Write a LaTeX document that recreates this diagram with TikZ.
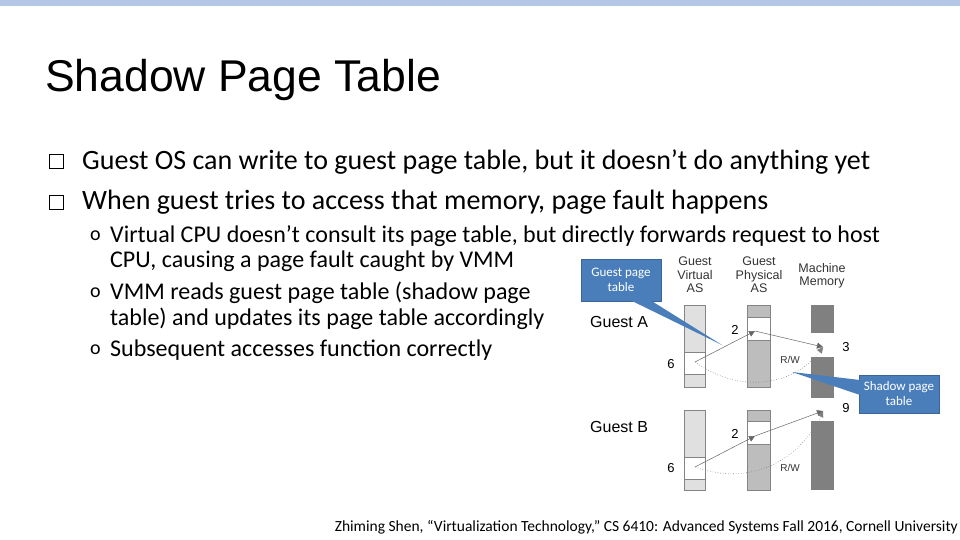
\documentclass[tikz,border=0pt]{standalone}
\usepackage{fontspec}
\setmainfont{Carlito}
\newfontfamily\arial{Liberation Sans}
\usetikzlibrary{arrows.meta}
\definecolor{callb}{HTML}{4A7EBB}
\definecolor{lg}{HTML}{E0E0E0}
\definecolor{mg}{HTML}{BDBDBD}
\definecolor{dg}{HTML}{808080}
\begin{document}
\begin{tikzpicture}[x=1pt,y=-1pt,
  col/.style={draw=mg!70!black,line width=0.4pt},
  lab/.style={font=\arial\fontsize{12.5}{13.5}\selectfont,align=center,text=black!80,inner sep=0pt},
  num/.style={font=\arial\fontsize{13}{14}\selectfont,inner sep=0pt},
  rw/.style={font=\arial\fontsize{10}{11}\selectfont,inner sep=0pt,text=black!80},
  bt/.style={anchor=west,inner sep=0pt,font=\fontsize{28}{32}\selectfont},
  st/.style={anchor=west,inner sep=0pt,font=\fontsize{24}{28}\selectfont},
  call/.style={fill=callb,draw=callb!80!black,text=white,font=\fontsize{13}{15}\selectfont,align=center},
  arr/.style={draw=black!60,line width=0.5pt,-{Triangle[length=6pt,width=6pt]}},
  darr/.style={draw=black!50,dotted,line width=0.6pt,-{Triangle[length=6pt,width=6pt]}}]
\useasboundingbox (0,0) rectangle (960,540);
\fill[white] (0,0) rectangle (960,540);
\fill[color={rgb,255:red,180;green,199;blue,231}] (0,0) rectangle (960,6);
\node[anchor=west,inner sep=0pt,font=\arial\fontsize{44.5}{48}\selectfont] (title) at (45,80) {Shadow Page Table};
% bullets
\foreach \yy in {162,202} {\draw[line width=1pt] (49,\yy-7) rectangle (63,\yy+7);}
\node[bt] (b1) at (82,162) {Guest OS can write to guest page table, but it doesn’t do anything yet};
\node[bt] (b2) at (82,202) {When guest tries to access that memory, page fault happens};
\foreach \yy in {236,293,350} {\node[anchor=west,inner sep=0pt,font=\fontsize{20}{22}\selectfont] at (90,\yy) {o};}
\node[st] (s1) at (110,236) {Virtual CPU doesn’t consult its page table, but directly forwards request to host};
\node[st] (s1b) at (110,261) {CPU, causing a page fault caught by VMM};
\node[st] (s2) at (110,293) {VMM reads guest page table (shadow page};
\node[st] (s2b) at (110,319) {table) and updates its page table accordingly};
\node[st] (s3) at (110,350) {Subsequent accesses function correctly};
\node[anchor=east,inner sep=0pt,font=\fontsize{15.5}{17}\selectfont] (foot) at (958,527) {Zhiming Shen, “Virtualization Technology,” CS 6410: Advanced Systems Fall 2016, Cornell University};
% headers
\node[lab] (h1) at (695,275) {Guest\\Virtual\\AS};
\node[lab] (h2) at (759,275) {Guest\\Physical\\AS};
\node[lab] (h3) at (822,276) {Machine\\Memory};
\node[anchor=west,inner sep=0pt,font=\arial\fontsize{16}{18}\selectfont] (ga) at (590,322) {Guest A};
\node[anchor=west,inner sep=0pt,font=\arial\fontsize{16}{18}\selectfont] (gb) at (590,427) {Guest B};
% columns guest A
\draw[col,fill=lg] (684,305) rectangle (705,387);
\draw[col,fill=white] (684,352) rectangle (705,374);
\draw[col,fill=mg] (747,305) rectangle (770,387);
\draw[col,fill=white] (747,317) rectangle (770,340);
% machine
\fill[dg] (811,305) rectangle (834,490);
\fill[white] (811,333) rectangle (834,357);
\fill[white] (811,398) rectangle (834,421);
% guest B
\draw[col,fill=lg] (684,410) rectangle (705,490);
\draw[col,fill=white] (684,457) rectangle (705,479);
\draw[col,fill=mg] (747,410) rectangle (770,490);
\draw[col,fill=white] (747,421) rectangle (770,444);
% numbers
\node[num] at (735,330) {2};
\node[num] at (846,347) {3};
\node[num] at (671,364) {6};
\node[num] at (846,408) {9};
\node[num] at (735,434) {2};
\node[num] at (671,468) {6};
\node[rw] at (790,360) {R/W};
\node[rw] at (790,468) {R/W};
% coordinates
\coordinate (va) at (695,362); \coordinate (pa) at (755,331); \coordinate (ma) at (823,347);
\coordinate (vb) at (695,467); \coordinate (pb) at (755,436); \coordinate (mb) at (823,411);
\draw[arr] (va) -- (pa);
\draw[arr] (pa) -- (ma);
\draw[darr] (va) .. controls (740,395) and (795,385) .. (ma);
\draw[arr] (vb) -- (pb);
\draw[arr] (pb) -- (mb);
\draw[darr] (vb) .. controls (760,490) and (805,450) .. (mb);
% callouts
\node[call,minimum width=80pt,minimum height=42pt] (c1) at (621,280) {Guest page\\table};
\fill[callb] (630,300) -- (722,345) -- (650,300) -- cycle;
\node[call,minimum width=80pt,minimum height=38pt] (c2) at (899,394) {Shadow page\\table};
\fill[callb] (860,380) -- (792,372) -- (860,395) -- cycle;
\end{tikzpicture}
\end{document}
